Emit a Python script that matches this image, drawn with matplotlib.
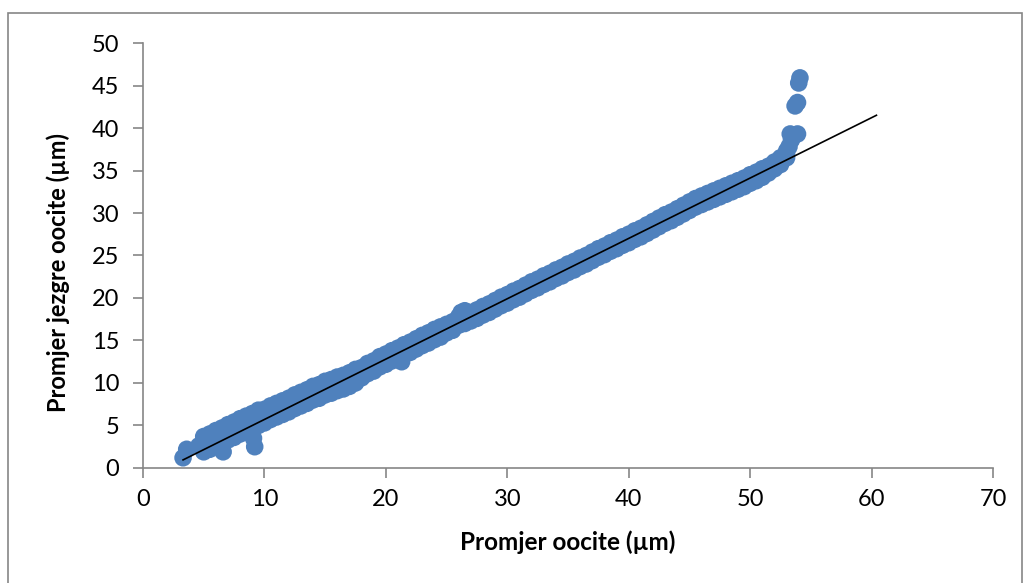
import matplotlib.pyplot as plt
from matplotlib.patches import Rectangle

x_band = [5.0, 5.5, 6.0, 6.5, 7.0, 7.5, 8.0, 8.5, 9.0, 9.5,
          10.0, 10.5, 11.0, 11.5, 12.0, 12.5, 13.0, 13.5, 14.0, 14.5,
          15.0, 15.5, 16.0, 16.5, 17.0, 17.5, 18.0, 18.5, 19.0, 19.5,
          20.0, 20.5, 21.0, 21.5, 22.0, 22.5, 23.0, 23.5, 24.0, 24.5,
          25.0, 25.5, 26.0, 26.5, 27.0, 27.5, 28.0, 28.5, 29.0, 29.5,
          30.0, 30.5, 31.0, 31.5, 32.0, 32.5, 33.0, 33.5, 34.0, 34.5,
          35.0, 35.5, 36.0, 36.5, 37.0, 37.5, 38.0, 38.5, 39.0, 39.5,
          40.0, 40.5, 41.0, 41.5, 42.0, 42.5, 43.0, 43.5, 44.0, 44.5,
          45.0, 45.5, 46.0, 46.5, 47.0, 47.5, 48.0, 48.5, 49.0, 49.5,
          50.0, 50.5, 51.0, 51.5, 52.0, 52.5, 53.0]
y_mid = [2.8, 3.1, 3.5, 3.8, 4.2, 4.5, 4.9, 5.2, 5.5, 5.9,
         6.1, 6.5, 6.8, 7.1, 7.4, 7.8, 8.1, 8.4, 8.8, 9.0,
         9.4, 9.6, 9.9, 10.1, 10.4, 10.8, 11.2, 11.7, 12.0, 12.5,
         12.8, 13.2, 13.5, 13.9, 14.2, 14.6, 15.0, 15.3, 15.7, 16.0,
         16.4, 16.7, 17.3, 17.5, 17.8, 18.1, 18.5, 18.8, 19.2, 19.6,
         19.9, 20.3, 20.6, 21.0, 21.4, 21.7, 22.1, 22.4, 22.8, 23.1,
         23.5, 23.8, 24.2, 24.5, 24.9, 25.3, 25.6, 26.0, 26.3, 26.7,
         27.0, 27.4, 27.7, 28.1, 28.5, 28.9, 29.3, 29.6, 30.0, 30.4,
         30.8, 31.2, 31.5, 31.8, 32.1, 32.4, 32.7, 33.0, 33.3, 33.6,
         34.0, 34.3, 34.7, 35.1, 35.6, 36.1, 36.9]
y_upper = [3.7, 4.0, 4.4, 4.7, 5.1, 5.4, 5.8, 6.1, 6.4, 6.8,
           6.9, 7.3, 7.6, 7.9, 8.2, 8.6, 8.9, 9.2, 9.6, 9.8,
           10.2, 10.4, 10.7, 10.9, 11.2, 11.6, 11.8, 12.3, 12.6, 13.1,
           13.4, 13.8, 14.1, 14.5, 14.8, 15.2, 15.6, 15.9, 16.3, 16.6,
           16.9, 17.2, 17.8, 18.0, 18.3, 18.6, 19.0, 19.3, 19.7, 20.1,
           20.4, 20.8, 21.1, 21.5, 21.9, 22.2, 22.6, 22.9, 23.3, 23.6,
           24.0, 24.3, 24.7, 25.0, 25.4, 25.8, 26.1, 26.5, 26.8, 27.2,
           27.5, 27.9, 28.2, 28.6, 29.0, 29.4, 29.8, 30.1, 30.5, 30.9,
           31.3, 31.7, 32.0, 32.3, 32.6, 32.9, 33.2, 33.5, 33.8, 34.1,
           34.5, 34.8, 35.2, 35.5, 36.0, 36.5, 37.3]
y_lower = [1.9, 2.2, 2.6, 2.9, 3.3, 3.6, 4.0, 4.3, 4.6, 5.0,
           5.3, 5.7, 6.0, 6.3, 6.6, 7.0, 7.3, 7.6, 8.0, 8.2,
           8.6, 8.8, 9.1, 9.3, 9.6, 10.0, 10.6, 11.1, 11.4, 11.9,
           12.2, 12.6, 12.9, 13.3, 13.6, 14.0, 14.4, 14.7, 15.1, 15.4,
           15.9, 16.2, 16.8, 17.0, 17.3, 17.6, 18.0, 18.3, 18.7, 19.1,
           19.4, 19.8, 20.1, 20.5, 20.9, 21.2, 21.6, 21.9, 22.3, 22.6,
           23.0, 23.3, 23.7, 24.0, 24.4, 24.8, 25.1, 25.5, 25.8, 26.2,
           26.5, 26.9, 27.2, 27.6, 28.0, 28.4, 28.8, 29.1, 29.5, 29.9,
           30.3, 30.7, 31.0, 31.3, 31.6, 31.9, 32.2, 32.5, 32.8, 33.1,
           33.5, 33.8, 34.2, 34.7, 35.2, 35.7, 36.5]

# isolated points off the main band
x_single = [3.3, 3.6, 4.6, 6.6, 9.2, 9.1, 21.3, 26.2, 26.5,
            53.2, 53.4, 53.3, 53.6, 53.9, 53.7, 53.9, 54.0, 54.1]
y_single = [1.2, 2.2, 2.6, 1.9, 2.5, 3.5, 12.5, 18.3, 18.5,
            37.8, 38.6, 39.3, 39.2, 39.3, 42.6, 43.0, 45.3, 45.9]

# linear trendline (Excel, forecast forward)
trend_x = [3.3, 60.4]
trend_y = [0.95, 41.5]

x_ticks = [0, 10, 20, 30, 40, 50, 60, 70]
y_ticks = [0, 5, 10, 15, 20, 25, 30, 35, 40, 45, 50]

plt.rcParams['font.family'] = ['Lato', 'DejaVu Sans']
blue = '#4F81BD'
grey = '#868686'

fig = plt.figure(figsize=(10.25, 5.83), dpi=100)
ax = fig.add_axes([0.1395, 0.1973, 0.8293, 0.7289])

msize = 160
for ys in (y_lower, y_upper, y_mid):
    ax.scatter(x_band, ys, s=msize, color=blue, edgecolors='none', zorder=2)
ax.scatter(x_single, y_single, s=msize, color=blue, edgecolors='none', zorder=2)
ax.plot(trend_x, trend_y, color='black', lw=1.2, zorder=3)

ax.set_xlim(0, 70)
ax.set_ylim(0, 50)
ax.set_xticks(x_ticks)
ax.set_yticks(y_ticks)
ax.tick_params(axis='both', labelsize=17, color=grey, width=1.2, length=7)
ax.tick_params(axis='y', pad=10)
ax.tick_params(axis='x', pad=8)

for side in ('top', 'right'):
    ax.spines[side].set_visible(False)
for side in ('left', 'bottom'):
    ax.spines[side].set_color(grey)
    ax.spines[side].set_linewidth(1.2)

ax.set_xlabel('Promjer oocite (µm)', fontsize=17.5, fontweight='bold', labelpad=15)
ax.set_ylabel('Promjer jezgre oocite (µm)', fontsize=17, fontweight='bold')
ax.yaxis.set_label_coords(-0.086, 0.46)

fig.patches.append(Rectangle((0.008, -0.01), 0.989, 0.988, transform=fig.transFigure,
                             fill=False, edgecolor=grey, lw=1.2))

fig.savefig('out.png', dpi=100)
